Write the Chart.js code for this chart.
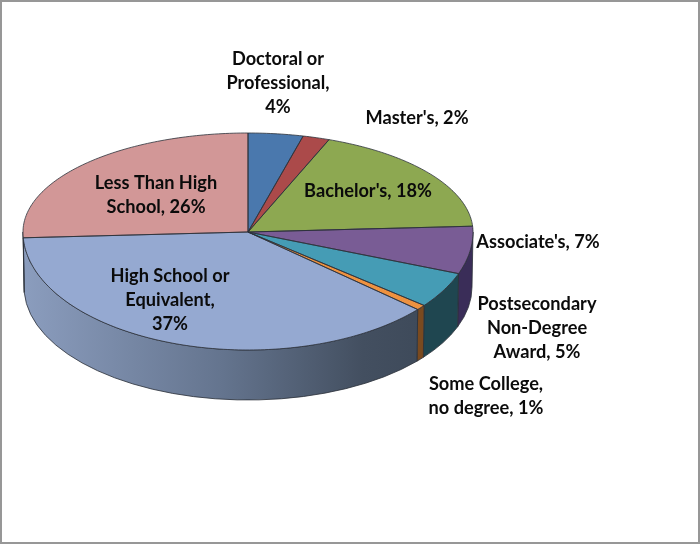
<!DOCTYPE html>
<html>
<head>
<meta charset="utf-8">
<style>html,body{margin:0;padding:0;background:#fff}canvas{display:block}</style>
<script src="https://cdn.jsdelivr.net/npm/chart.js@4"></script>
</head>
<body>
<canvas id="c" width="700" height="544"></canvas>
<script>
const categories = ["Doctoral or Professional", "Master's", "Bachelor's", "Associate's", "Postsecondary Non-Degree Award", "Some College, no degree", "High School or Equivalent", "Less Than High School"];
const shares = [3.9, 1.9, 18.0, 6.6, 4.9, 0.7, 37.4, 25.5];
const labelLines = [
  ["Doctoral or", "Professional,", "4%"],
  ["Master's, 2%"],
  ["Bachelor's, 18%"],
  ["Associate's, 7%"],
  ["Postsecondary", "Non-Degree", "Award, 5%"],
  ["Some College,", "no degree, 1%"],
  ["High School or", "Equivalent,", "37%"],
  ["Less Than High", "School, 26%"]
];
const topColors = ["#4A78AD", "#AB4A4A", "#8DA851", "#795C95", "#459CB5", "#EE9240", "#95A9D1", "#D29797"];
const sideColors = [null, null, null, "#3A2D58", "#1F4650", "#7A4A1F", null, null];
const labelCentres = [[278,59],[417,118],[368,191],[538,242],[537,304],[486,384],[170,276],[156,183]];

const upperSquash = 99 / 225, lowerSquash = 118 / 225;
const base = { dy: 55, rx: 224, ry: 113 };
const edgeColor = "#2b3038";

function rimPoint(a, r, cx, cy) {
  const s = Math.sin(a);
  return [cx + r * Math.cos(a), cy + r * s * (s < 0 ? upperSquash : lowerSquash)];
}

const pie3d = {
  id: "pie3d",
  beforeDraw(chart) {
    const c = chart.ctx;
    c.save();
    c.fillStyle = "#fff";
    c.fillRect(0, 0, 700, 544);
    c.strokeStyle = "#979797";
    c.lineWidth = 2;
    c.strokeRect(1, 1, 698, 542);
    c.restore();
  },
  beforeDatasetsDraw(chart) {
    const c = chart.ctx;
    const arcs = chart.getDatasetMeta(0).data;
    const cx = arcs[0].x, cy = arcs[0].y, R = arcs[0].outerRadius;

    // side walls
    arcs.forEach((arc, i) => {
      const a0 = Math.max(arc.startAngle, 0), a1 = Math.min(arc.endAngle, Math.PI);
      if (a1 <= a0) return;
      c.save();
      c.beginPath();
      c.ellipse(cx, cy, R, R * lowerSquash, 0, a0, a1);
      c.ellipse(cx, cy + base.dy, base.rx, base.ry, 0, a1, a0, true);
      c.closePath();
      if (sideColors[i]) {
        c.fillStyle = sideColors[i];
      } else {
        const g = c.createLinearGradient(cx - R, 0, cx + 175, 0);
        g.addColorStop(0, "#8B9DBE");
        g.addColorStop(0.5, "#64748E");
        g.addColorStop(0.85, "#434F60");
        g.addColorStop(1, "#3E4A5A");
        c.fillStyle = g;
      }
      c.fill();
      c.strokeStyle = edgeColor;
      c.lineWidth = 0.8;
      c.stroke();
      c.restore();
    });

    // top faces, drawn by the library's arc elements under a perspective squash
    [[upperSquash, cy - R, R], [lowerSquash, cy, R]].forEach(([k, top, h]) => {
      c.save();
      c.beginPath();
      c.rect(cx - R - 4, top - 4, 2 * R + 8, h + 4);
      c.clip();
      c.translate(cx, cy);
      c.scale(1, k);
      c.translate(-cx, -cy);
      arcs.forEach(arc => arc.draw(c));
      c.restore();
    });

    // slice outlines
    arcs.forEach(arc => {
      c.save();
      c.beginPath();
      c.moveTo(cx, cy);
      const n = Math.max(4, Math.ceil((arc.endAngle - arc.startAngle) * 60));
      for (let j = 0; j <= n; j++) {
        const t = arc.startAngle + (arc.endAngle - arc.startAngle) * j / n;
        const p = rimPoint(t, R, cx, cy);
        c.lineTo(p[0], p[1]);
      }
      c.closePath();
      c.strokeStyle = edgeColor;
      c.lineWidth = 0.8;
      c.lineJoin = "round";
      c.stroke();
      c.restore();
    });
    return false;
  },
  afterDraw(chart) {
    const c = chart.ctx;
    c.save();
    c.font = "bold 18.2px Lato";
    c.fillStyle = "#0b0b0b";
    c.textAlign = "center";
    c.textBaseline = "middle";
    labelLines.forEach((lines, i) => {
      lines.forEach((t, j) => c.fillText(t, labelCentres[i][0], labelCentres[i][1] + j * 24));
    });
    c.restore();
  }
};

new Chart(document.getElementById("c"), {
  type: "pie",
  data: { labels: categories, datasets: [{ data: shares, backgroundColor: topColors, borderWidth: 0, hoverOffset: 0 }] },
  options: {
    responsive: false,
    animation: false,
    devicePixelRatio: 1,
    layout: { padding: { left: 23, right: 227, top: 7, bottom: 87 } },
    plugins: { legend: { display: false }, tooltip: { enabled: false }, title: { display: false } }
  },
  plugins: [pie3d]
});
</script>
</body>
</html>
